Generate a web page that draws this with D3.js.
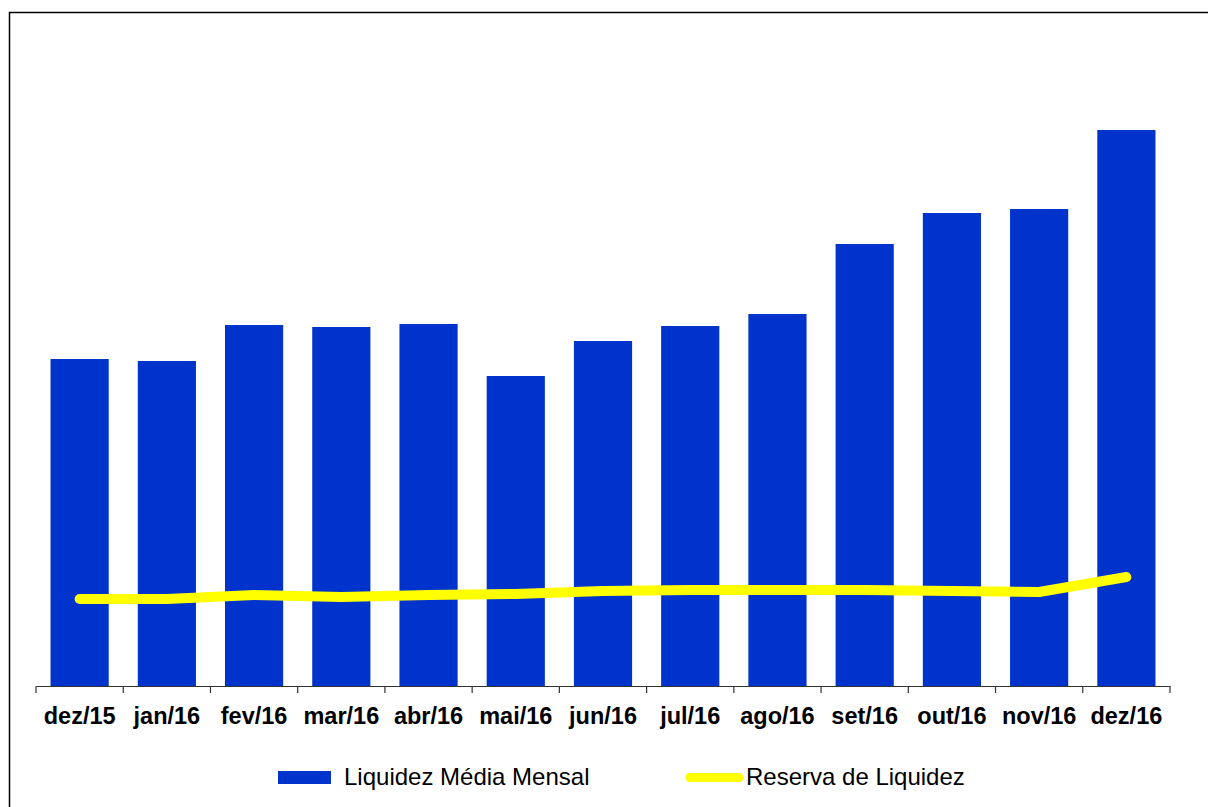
<!DOCTYPE html>
<html>
<head>
<meta charset="utf-8">
<script src="https://cdn.jsdelivr.net/npm/d3@7"></script>
<style>
  html, body { margin: 0; padding: 0; background: #fff; }
  svg { display: block; }
  text { font-family: "Liberation Sans", Arial, sans-serif; }
</style>
</head>
<body>
<svg id="svg" width="1208" height="807"></svg>
<script>
// --- Data ------------------------------------------------------------------
const months = ["dez/15", "jan/16", "fev/16", "mar/16", "abr/16", "mai/16", "jun/16",
                "jul/16", "ago/16", "set/16", "out/16", "nov/16", "dez/16"];
const liquidezMedia = [3.27, 3.25, 3.61, 3.59, 3.62, 3.10, 3.45, 3.60, 3.72, 4.42, 4.73, 4.77, 5.56];
const reservaLiquidez = [0.87, 0.87, 0.91, 0.89, 0.91, 0.92, 0.95, 0.96, 0.96, 0.96, 0.95, 0.94, 1.09];
const seriesNames = ["Liquidez Média Mensal", "Reserva de Liquidez"];

const BLUE = "#0033cc", YELLOW = "#ffff00";

// --- Chart -----------------------------------------------------------------
const svg = d3.select("#svg");

// outer frame (runs off the right and bottom edges)
svg.append("rect")
  .attr("x", 9.5).attr("y", 12.5)
  .attr("width", 1400).attr("height", 1000)
  .attr("fill", "none").attr("stroke", "#000").attr("stroke-width", 1.5);

const x = d3.scaleBand().domain(months).range([36, 1170])
  .paddingInner(0.333).paddingOuter(0.1667);
const y = d3.scaleLinear().domain([0, 6]).range([686, 86]);

// bars
svg.append("g").selectAll("rect")
  .data(months).enter()
  .append("rect")
  .attr("x", d => x(d))
  .attr("width", x.bandwidth())
  .attr("y", (d, i) => y(liquidezMedia[i]))
  .attr("height", (d, i) => y(0) - y(liquidezMedia[i]))
  .attr("fill", BLUE);

// x axis: labels at centres, ticks between categories
const axis = svg.append("g")
  .attr("transform", `translate(0,${y(0)})`)
  .call(d3.axisBottom(x).tickSize(0).tickPadding(21.3));
axis.select(".domain").attr("stroke", "#333").attr("stroke-width", 1.2);
axis.selectAll("text")
  .attr("font-size", 23.5).attr("font-weight", "bold").attr("fill", "#000")
  .attr("font-family", "Liberation Sans, Arial, sans-serif");

const step = x.step();
const bounds = months.map(d => x(d) - step * x.paddingInner() / 2)
  .concat([x(months[months.length - 1]) + x.bandwidth() + step * x.paddingInner() / 2]);
svg.append("g").selectAll("line")
  .data(bounds).enter()
  .append("line")
  .attr("x1", d => d).attr("x2", d => d)
  .attr("y1", y(0)).attr("y2", y(0) + 7)
  .attr("stroke", "#333").attr("stroke-width", 1.2);

// line
const line = d3.line()
  .x((d, i) => x(months[i]) + x.bandwidth() / 2)
  .y(d => y(d));
svg.append("path")
  .datum(reservaLiquidez)
  .attr("d", line)
  .attr("fill", "none")
  .attr("stroke", YELLOW)
  .attr("stroke-width", 10)
  .attr("stroke-linecap", "round")
  .attr("stroke-linejoin", "round");

// legend
const legend = svg.append("g");
legend.append("rect")
  .attr("x", 278).attr("y", 771).attr("width", 53).attr("height", 13)
  .attr("fill", BLUE);
legend.append("text")
  .attr("x", 344).attr("y", 785)
  .attr("font-size", 24).attr("fill", "#000")
  .text(seriesNames[0]);
legend.append("line")
  .attr("x1", 690).attr("x2", 739).attr("y1", 777.5).attr("y2", 777.5)
  .attr("stroke", YELLOW).attr("stroke-width", 9).attr("stroke-linecap", "round");
legend.append("text")
  .attr("x", 746).attr("y", 785)
  .attr("font-size", 24).attr("fill", "#000")
  .text(seriesNames[1]);
</script>
</body>
</html>
